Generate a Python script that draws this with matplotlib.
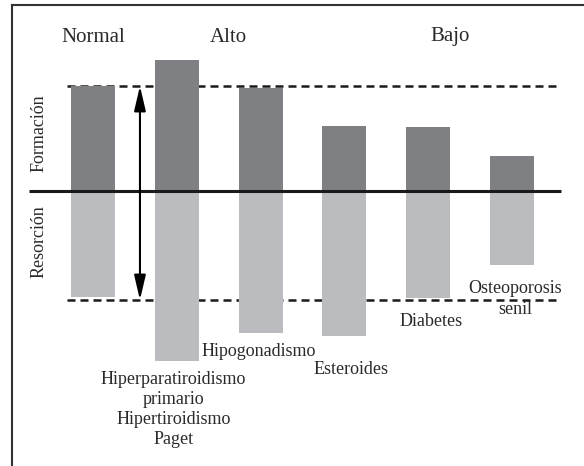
"""
Bone remodelling schematic: formation (up) vs resorption (down) per condition.
"""

import matplotlib
matplotlib.use("Agg")
import matplotlib.pyplot as plt

# ---- data (heights, baseline = 0) ----
conditions = ['Normal', 'Hiperparatiroidismo', 'Hipogonadismo',
              'Esteroides', 'Diabetes', 'Osteoporosis senil']
formation = [105, 131, 103, 65, 64, 35]
resorption = [106, 170, 142, 145, 107, 74]
normal_top = 105
normal_bottom = -109

group_labels = ['Normal', 'Alto', 'Bajo']
group_x = [0.0, 1.62, 4.26]

bar_labels = ['Hiperparatiroidismo\nprimario\nHipertiroidismo\nPaget',
              'Hipogonadismo', 'Esteroides', 'Diabetes', 'Osteoporosis\nsenil']
bar_label_x = [0.96, 1.98, 3.08, 4.04, 5.04]
bar_label_y = [-180, -160, -178, -130, -108]
bar_label_va = ['top', 'center', 'center', 'center', 'center']

DARK = '#7f8084'
LIGHT = '#bbbcc0'
INK = '#2a2a2a'
FONT = 'Liberation Serif'

fig = plt.figure(figsize=(5.84, 4.66), dpi=100)
ax = fig.add_axes([12 / 584, 0, 572 / 584, 461 / 466])

x = list(range(len(conditions)))
ax.bar(x, formation, width=0.525, color=DARK, zorder=2)
ax.bar(x, [-r for r in resorption], width=0.525, color=LIGHT, zorder=2)

# baseline and normal-level dashed guides
ax.hlines(0, -0.764, 5.585, color='#1a1a1a', lw=2.2, zorder=3)
for lev in (normal_top, normal_bottom):
    ax.hlines(lev, -0.31, 5.585, color='#1a1a1a', lw=1.8,
              linestyles=(0, (3.2, 2.0)), zorder=1)

# double-headed arrow showing the normal range
ax.annotate('', xy=(0.56, normal_top), xytext=(0.56, normal_bottom),
            arrowprops=dict(arrowstyle='<|-|>,head_length=1.5,head_width=0.35',
                            lw=1.5, color='k', shrinkA=0, shrinkB=0),
            zorder=4)

# group titles across the top
for lab, gx in zip(group_labels, group_x):
    ax.text(gx, 154, lab, ha='center', va='center', fontsize=15,
            family=FONT, color=INK)

# side labels
ax.text(-0.644, 58, 'Formación', rotation=90, ha='center', va='center',
        fontsize=13, family=FONT, color=INK)
ax.text(-0.644, -51, 'Resorción', rotation=90, ha='center', va='center',
        fontsize=13, family=FONT, color=INK)

# condition labels under the bars
for lab, lx, ly, va in zip(bar_labels, bar_label_x, bar_label_y, bar_label_va):
    ax.text(lx, ly, lab, ha='center', va=va, fontsize=13, family=FONT,
            color=INK, linespacing=1.24, zorder=5)

ax.set_xlim(-0.967, 5.859)
ax.set_ylim(-275, 186)
ax.set_xticks([])
ax.set_yticks([])
for side in ('right', 'bottom'):
    ax.spines[side].set_visible(False)
for side in ('top', 'left'):
    ax.spines[side].set_linewidth(1.5)
    ax.spines[side].set_color('#333333')

fig.savefig('out.png', dpi=100)
